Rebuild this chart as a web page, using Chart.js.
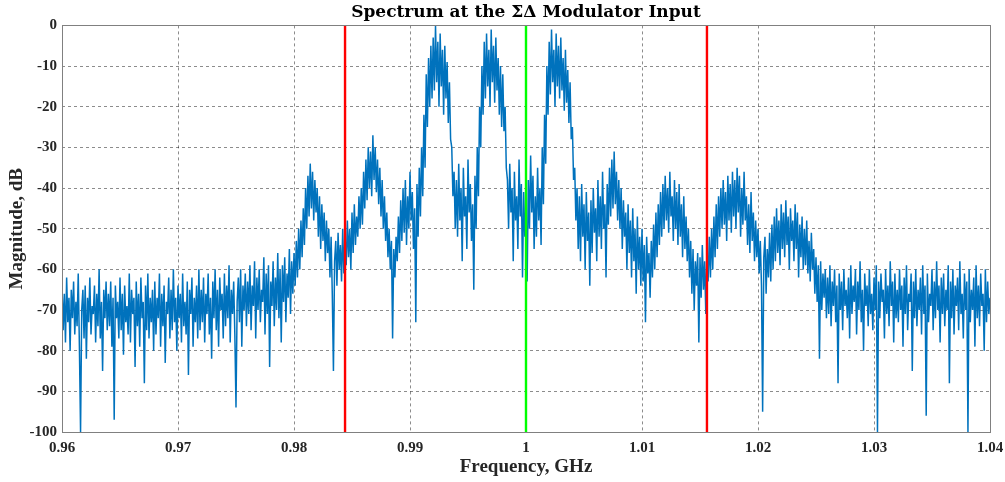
<!DOCTYPE html>
<html lang="en">
<head>
    <meta charset="UTF-8">
    <title>spectrum</title>
    <style>
        body { margin: 0; background: #fff; }
    </style>
</head>
<body>
    <canvas id="spectrum" width="1005" height="482"></canvas>

<script src="https://cdn.jsdelivr.net/npm/chart.js"></script>
<script>
    // frequency grid of the trace (GHz)
    const freqStart = 0.96;
    const freqStep = 0.0001;

    // magnitude in dB at freqStart + i*freqStep (40 values per 0.004 GHz)
    const magnitude = [
        // 0.960
        -64,-75,-66,-78,-62,-73,-67,-80,-65,-72,-63,-76,-68,-74,-61,-79,-100,-70,-65,-77,
        -64,-82,-67,-73,-62,-76,-69,-71,-64,-78,-66,-74,-60,-77,-68,-85,-65,-72,-63,-75,
        // 0.964
        -66,-74,-63,-79,-67,-97,-64,-72,-68,-77,-62,-75,-66,-81,-64,-73,-69,-76,-61,-78,
        -65,-71,-67,-84,-63,-74,-66,-79,-62,-72,-68,-88,-64,-75,-61,-77,-67,-73,-65,-80,
        // 0.968
        -63,-76,-67,-72,-61,-79,-66,-74,-64,-83,-68,-71,-62,-77,-65,-75,-60,-73,-67,-80,
        -64,-72,-66,-78,-61,-74,-68,-76,-63,-86,-65,-71,-62,-79,-67,-73,-64,-77,-60,-75,
        // 0.972
        -65,-73,-62,-78,-66,-71,-61,-76,-67,-82,-63,-72,-60,-75,-65,-79,-62,-70,-66,-77,
        -61,-74,-64,-72,-59,-78,-65,-71,-63,-76,-94,-68,-62,-73,-60,-79,-64,-70,-61,-74,
        // 0.976
        -63,-71,-59,-75,-64,-69,-58,-77,-62,-70,-60,-73,-65,-68,-57,-76,-61,-71,-59,-84,
        -63,-69,-58,-74,-62,-70,-56,-72,-60,-78,-59,-68,-57,-73,-61,-67,-55,-71,-58,-66,
        // 0.980
        -56,-64,-53,-62,-50,-60,-48,-57,-45,-54,
        -40,-50,-37,-47,-34,-45,-36,-48,-38,-46,
        -40,-52,-42,-55,-44,-53,-46,-58,-48,-56,
        -50,-62,-52,-66,-85,-58,-53,-64,-51,-60,
        // 0.984
        -54,-63,-50,-61,-52,-59,-48,-57,-50,-60,
        -46,-56,-44,-54,-47,-52,-42,-50,-40,-49,
        -36,-45,-33,-43,-30,-40,-31,-42,-27,-38,
        -30,-41,-33,-44,-35,-47,-38,-50,-42,-53,
        // 0.988
        -46,-57,-50,-60,-53,-77,-55,-62,-52,-58,
        -47,-56,-43,-53,-40,-51,-38,-54,-42,-50,
        -36,-48,-41,-55,-45,-73,-39,-52,-35,-47,
        -30,-42,-22,-35,-12,-25,-8,-20,-5,-18,
        // 0.992
        -3,-16,0,-14,-4,-20,-2,-15,-6,-22,
        -5,-18,-9,-24,-14,-28,-30,-42,-36,-50,
        -38,-52,-34,-48,-40,-58,-35,-47,-42,-55,
        -33,-46,-39,-53,-44,-65,-37,-50,-30,-42,
        // 0.996
        -20,-30,-10,-22,-4,-18,-2,-15,-6,-20,
        -1,-14,-5,-19,-3,-16,-8,-22,-10,-25,
        -12,-26,-20,-35,-38,-50,-34,-46,-40,-58,
        -36,-48,-42,-55,-33,-47,-39,-62,-41,-52,
        // 1.000
        -45,-63,-38,-50,-32,-46,-37,-55,-42,-52,
        -35,-48,-40,-54,-30,-44,-22,-34,-10,-22,
        -4,-17,-1,-14,-6,-20,-2,-15,-5,-18,
        -3,-16,-8,-21,-6,-19,-11,-24,-14,-28,
        // 1.004
        -25,-38,-35,-48,-40,-55,-42,-58,-39,-52,
        -44,-60,-41,-53,-46,-64,-43,-56,-40,-51,
        -45,-58,-38,-52,-42,-55,-36,-50,-44,-62,
        -39,-49,-35,-47,-33,-45,-31,-44,-36,-48,
        // 1.008
        -38,-50,-40,-55,-43,-52,-46,-60,-44,-56,
        -48,-62,-45,-58,-50,-66,-47,-60,-52,-64,
        -50,-63,-54,-73,-52,-61,-56,-67,-53,-62,
        -49,-60,-46,-57,-44,-54,-41,-52,-39,-50,
        // 1.012
        -37,-48,-40,-51,-36,-47,-42,-53,-38,-50,
        -41,-54,-39,-52,-44,-57,-42,-55,-47,-58,
        -50,-62,-53,-66,-55,-70,-58,-64,-56,-78,
        -57,-67,-54,-65,-58,-71,-55,-63,-52,-62,
        // 1.016
        -50,-60,-47,-57,-44,-55,-42,-52,-40,-50,
        -38,-49,-41,-53,-37,-48,-39,-51,-36,-47,
        -38,-50,-35,-46,-37,-52,-40,-49,-36,-48,
        -42,-54,-44,-56,-41,-53,-46,-58,-48,-57,
        // 1.020
        -50,-61,-53,-64,-95,-57,-52,-66,-55,-62,
        -51,-63,-49,-60,-47,-58,-45,-56,-48,-59,
        -44,-55,-46,-57,-43,-54,-47,-60,-45,-53,
        -48,-58,-44,-55,-46,-62,-49,-57,-47,-60,
        // 1.024
        -50,-59,-48,-61,-53,-63,-51,-60,-55,-66,
        -57,-68,-59,-82,-58,-70,-61,-67,-60,-72,
        -62,-71,-59,-74,-63,-69,-60,-73,-64,-88,
        -61,-70,-63,-75,-60,-69,-65,-72,-62,-77,
        // 1.028
        -59,-71,-64,-68,-60,-76,-63,-70,-58,-73,
        -65,-80,-61,-69,-64,-74,-60,-71,-66,-75,
        -62,-70,-59,-100,-63,-72,-61,-68,-65,-77,
        -60,-71,-64,-74,-58,-69,-63,-78,-61,-72,
        // 1.032
        -65,-73,-60,-70,-64,-79,-62,-71,-59,-75,
        -66,-68,-61,-85,-63,-72,-60,-74,-65,-70,
        -62,-76,-59,-71,-64,-96,-61,-73,-66,-69,
        -60,-75,-63,-72,-58,-70,-64,-78,-62,-71,
        // 1.036
        -61,-74,-65,-70,-59,-88,-63,-72,-60,-76,
        -64,-69,-62,-75,-58,-71,-66,-77,-61,-70,
        -63,-100,-60,-73,-65,-70,-62,-79,-59,-72,
        -64,-74,-61,-69,-66,-80,-60,-73,-63,-71,
        // 1.040
        -67
    ];

    // band edges and centre (GHz)
    const bandLow = 0.9844;
    const centreFreq = 1.0;
    const bandHigh = 1.0156;

    const xMin = 0.96, xMax = 1.04, xStep = 0.01;
    const yMin = -100, yMax = 0, yStep = 10;

    const serif = '"Liberation Serif", "Times New Roman", serif';
    const tickFont = { family: serif, size: 15, weight: 'bold' };
    const labelFont = { family: serif, size: 19, weight: 'bold' };
    const titleFont = { family: '"DejaVu Serif", serif', size: 17, weight: 'bold' };

    const trace = magnitude.map((v, i) => ({ x: freqStart + i * freqStep, y: v }));
    const vline = f => [{ x: f, y: yMin }, { x: f, y: yMax }];

    // grey box round the plot area, like the matlab axes
    const boxPlugin = {
        id: 'box',
        afterDraw(chart) {
            const a = chart.chartArea, ctx = chart.ctx;
            ctx.save();
            ctx.strokeStyle = '#808080';
            ctx.lineWidth = 1;
            ctx.strokeRect(Math.round(a.left) + 0.5, Math.round(a.top) + 0.5,
                Math.round(a.right - a.left), Math.round(a.bottom - a.top));
            ctx.restore();
        }
    };

    const gridOpts = { color: 'rgba(0,0,0,0.45)', lineWidth: 1, drawTicks: false };
    const borderOpts = { display: false, dash: [3, 3] };

    new Chart(document.getElementById('spectrum'), {
        type: 'line',
        data: {
            datasets: [
                { data: vline(bandLow), borderColor: '#ff0000', borderWidth: 2.4, order: 0 },
                { data: vline(centreFreq), borderColor: '#00ff00', borderWidth: 2.4, order: 0 },
                { data: vline(bandHigh), borderColor: '#ff0000', borderWidth: 2.4, order: 0 },
                { data: trace, borderColor: '#0072bd', borderWidth: 1.5, order: 1 }
            ]
        },
        options: {
            responsive: false,
            animation: false,
            layout: { padding: 0 },
            elements: { point: { radius: 0 }, line: { tension: 0 } },
            plugins: {
                legend: { display: false },
                tooltip: { enabled: false },
                title: {
                    display: true,
                    fullSize: false,
                    text: 'Spectrum at the ΣΔ Modulator Input',
                    font: titleFont,
                    color: '#000',
                    padding: { top: 2, bottom: 3 }
                }
            },
            scales: {
                x: {
                    type: 'linear',
                    min: xMin, max: xMax,
                    afterFit: s => { s.height = 50; s.paddingLeft = 0; s.paddingRight = 15; },
                    ticks: {
                        stepSize: xStep,
                        padding: 7,
                        color: '#262626',
                        font: tickFont,
                        maxRotation: 0,
                        callback: v => {
                            const r = Math.round(v * 100) / 100;
                            return r === 1 ? '1' : r.toFixed(2);
                        }
                    },
                    grid: gridOpts,
                    border: borderOpts,
                    title: { display: true, text: 'Frequency, GHz', font: labelFont, color: '#262626', padding: { top: 0, bottom: 4 } }
                },
                y: {
                    min: yMin, max: yMax,
                    afterFit: s => { s.width = 62; },
                    ticks: { stepSize: yStep, padding: 5, color: '#262626', font: tickFont },
                    grid: gridOpts,
                    border: borderOpts,
                    title: { display: true, text: 'Magnitude, dB', font: labelFont, color: '#262626', padding: { top: 6, bottom: 0 } }
                }
            }
        },
        plugins: [boxPlugin]
    });
</script>
</body>
</html>
